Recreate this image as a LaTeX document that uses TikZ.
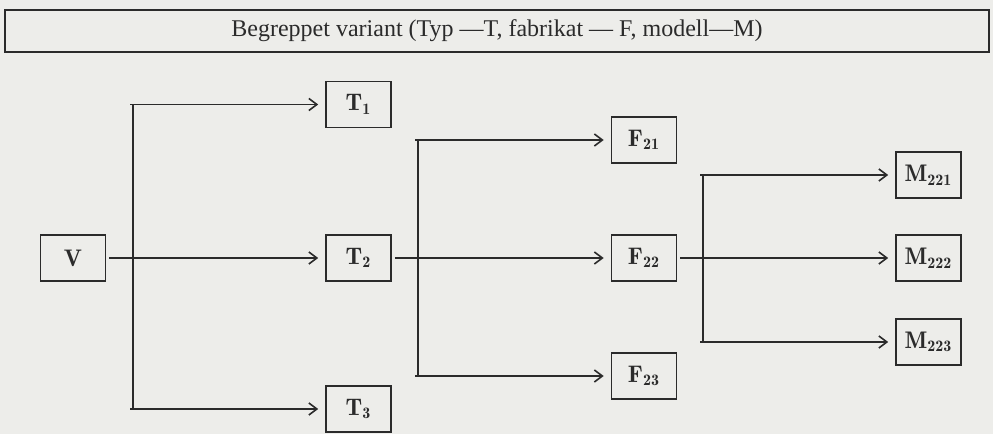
\documentclass[tikz,border=0pt]{standalone}
\usepackage{fontspec}
\newfontfamily\titlefont{Liberation Serif}
\usepackage{tikz}
\usetikzlibrary{arrows.meta,positioning,calc}
\definecolor{PaperGray}{HTML}{EDEDEA}
\definecolor{InkDark}{HTML}{2B2B2B}
\newcommand{\itemlabel}[2]{$\mathbf{#1}_{\mathbf{#2}}$}
\tikzset{
  titlebox/.style={draw=InkDark,line width=0.9pt,minimum width=492pt,minimum height=21pt,inner sep=0pt,text=InkDark,font=\titlefont\fontsize{12}{14}\selectfont},
  itembox/.style={draw=InkDark,line width=0.8pt,minimum width=32.5pt,minimum height=23pt,inner sep=0pt,text=InkDark,font=\fontsize{12}{14}\selectfont},
  link/.style={draw=InkDark,line width=0.8pt},
  arrow/.style={link,-{Straight Barb[length=4pt,width=6pt]},shorten >=3.5pt},
  branch/.style={arrow,shorten <=1.5pt}
}

\begin{document}
\begin{tikzpicture}[x=0.5pt,y=-0.5pt]
\fill[PaperGray] (0,0) rectangle (993,434);
\useasboundingbox (0,0) rectangle (993,434);
\node[titlebox] (title) at (497,31) {Begreppet variant (Typ —T, fabrikat — F, modell—M)};
\node[itembox] (v) at (73,258) {$\mathbf{V}$};
\node[itembox] (t1) at (358.5,104.5) {\itemlabel{T}{1}};
\node[itembox] (t2) at (358.5,258) {\itemlabel{T}{2}};
\node[itembox] (t3) at (358.5,409) {\itemlabel{T}{3}};
\node[itembox] (f21) at (644,140) {\itemlabel{F}{21}};
\node[itembox] (f22) at (644,258) {\itemlabel{F}{22}};
\node[itembox] (f23) at (644,376) {\itemlabel{F}{23}};
\node[itembox] (m221) at (928.5,175) {\itemlabel{M}{221}};
\node[itembox] (m222) at (928.5,258) {\itemlabel{M}{222}};
\node[itembox] (m223) at (928.5,342) {\itemlabel{M}{223}};
\coordinate (fork1) at (133,258);
\coordinate (fork2) at (418,258);
\coordinate (fork3) at (703,258);
\draw[link] (fork1 |- t1) -- (fork1 |- t3);
\draw[link] (fork2 |- f21) -- (fork2 |- f23);
\draw[link] (fork3 |- m221) -- (fork3 |- m223);
\draw[branch] (v) -- (t2);
\draw[branch] (t2) -- (f22);
\draw[branch] (f22) -- (m222);
\draw[arrow] ($(fork1 |- t1)+(-3,0)$) -- (t1);
\draw[arrow] ($(fork1 |- t3)+(-3,0)$) -- (t3);
\draw[arrow] ($(fork2 |- f21)+(-3,0)$) -- (f21);
\draw[arrow] ($(fork2 |- f23)+(-3,0)$) -- (f23);
\draw[arrow] ($(fork3 |- m221)+(-3,0)$) -- (m221);
\draw[arrow] ($(fork3 |- m223)+(-3,0)$) -- (m223);
\end{tikzpicture}
\end{document}
